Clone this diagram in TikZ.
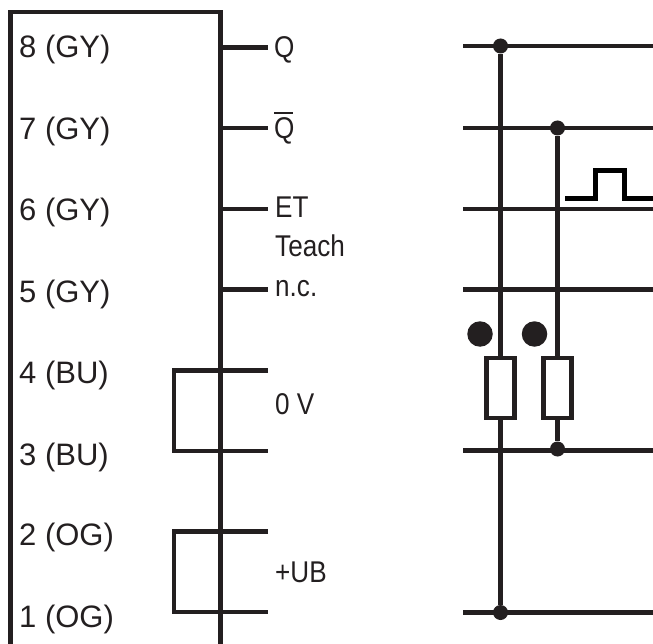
\documentclass[tikz,border=0pt]{standalone}
\usepackage{fontspec}
\setmainfont{Liberation Sans}
\newfontfamily\narrowfont[FakeStretch=0.87]{Liberation Sans}
\definecolor{inkblack}{HTML}{231F20}
\newcommand{\qbarlabel}{\leavevmode\rlap{\raisebox{24.5pt}{\rule{18.5pt}{2pt}}}Q}

\begin{document}
\begin{tikzpicture}[
            x=1pt,
            y=-1pt,
            wire/.style={
                draw=inkblack,
                line width=4.6pt
            },
            pulse/.style={
                draw=black,
                line width=5pt
            },
            pinlabel/.style={
                anchor=base west,
                inner sep=0pt,
                text=inkblack,
                font=\fontsize{31}{36}\selectfont
            },
            signal/.style={
                anchor=base west,
                inner sep=0pt,
                text=inkblack,
                font=\narrowfont\fontsize{30}{36}\selectfont
            },
            junction/.style={
                circle,
                fill=inkblack,
                inner sep=0pt,
                minimum size=15pt
            },
            led/.style={
                circle,
                fill=inkblack,
                inner sep=0pt,
                minimum size=25.5pt
            },
            resistor/.style={
                rectangle,
                draw=inkblack,
                line width=4.6pt,
                fill=white,
                inner sep=0pt,
                minimum width=27.5pt,
                minimum height=60pt
            }
        ]
            \useasboundingbox (0,0) rectangle (653,644);

            % Define pin labels
            \node[pinlabel] (pin8) at (19,58) {8 (GY)};
            \node[pinlabel] (pin7) at (19,140) {7 (GY)};
            \node[pinlabel] (pin6) at (19,221) {6 (GY)};
            \node[pinlabel] (pin5) at (19,302) {5 (GY)};
            \node[pinlabel] (pin4) at (19,383) {4 (BU)};
            \node[pinlabel] (pin3) at (19,465) {3 (BU)};
            \node[pinlabel] (pin2) at (19,545) {2 (OG)};
            \node[pinlabel] (pin1) at (19,627) {1 (OG)};

            % Define signal labels
            \node[signal] (sigq) at (274,58) {Q};
            \node[signal] (sigqbar) at (274,138.5) {\qbarlabel};
            \node[signal] (siget) at (275,218) {ET};
            \node[signal] (sigteach) at (275,257) {Teach};
            \node[signal] (signc) at (275,297) {n.c.};
            \node[signal] (sigzero) at (275,414) {0 V};
            \node[signal] (sigub) at (275,582) {+UB};

            % Define housing corners
            \coordinate (boxbl) at (10.5,644);
            \coordinate (boxtl) at (10.5,12);
            \coordinate (boxtr) at (220.5,12);
            \coordinate (boxbr) at (220.5,644);

            % Define stub ends
            \coordinate (stub8) at (220.5,47.5);
            \coordinate (stub7) at (220.5,128);
            \coordinate (stub6) at (220.5,209);
            \coordinate (stub5) at (220.5,289.5);
            \coordinate (end8) at (268,47.5);
            \coordinate (end7) at (268,128);
            \coordinate (end6) at (268,209);
            \coordinate (end5) at (268,289.5);
            \coordinate (end4) at (268,370.5);
            \coordinate (end3) at (268,451);
            \coordinate (end2) at (268,531.5);
            \coordinate (end1) at (268,612);
            \coordinate (loopa) at (174,370.5);
            \coordinate (loopb) at (174,451);
            \coordinate (loopc) at (174,531.5);
            \coordinate (loopd) at (174,612);

            % Define bus line ends
            \coordinate (busa) at (463,46);
            \coordinate (busb) at (463,128);
            \coordinate (busc) at (463,209);
            \coordinate (busd) at (463,289.5);
            \coordinate (buse) at (463,450.5);
            \coordinate (busf) at (463,612.5);
            \coordinate (outa) at (653,46);
            \coordinate (outb) at (653,128);
            \coordinate (outc) at (653,209);
            \coordinate (outd) at (653,289.5);
            \coordinate (oute) at (653,450.5);
            \coordinate (outf) at (653,612.5);

            % Define junctions and parts
            \node[junction] (topdot) at (500.5,46) {};
            \node[junction] (middot) at (557.5,128) {};
            \node[junction] (lowdot) at (557.5,449) {};
            \node[junction] (botdot) at (500.5,612.5) {};
            \node[led] (leda) at (480,334) {};
            \node[led] (ledb) at (534.5,334) {};
            \node[resistor] (resa) at (500.5,388) {};
            \node[resistor] (resb) at (557.5,388) {};

            % Draw housing
            \draw[wire] (boxbl) -- (boxtl) -- (boxtr) -- (boxbr);

            % Draw stubs
            \draw[wire] (stub8) -- (end8);
            \draw[wire] (stub7) -- (end7);
            \draw[wire] (stub6) -- (end6);
            \draw[wire] (stub5) -- (end5);
            \draw[wire] (end4) -- (loopa) -- (loopb) -- (end3);
            \draw[wire] (end2) -- (loopc) -- (loopd) -- (end1);

            % Draw bus lines
            \draw[wire] (busa) -- (outa);
            \draw[wire] (busb) -- (outb);
            \draw[wire] (busc) -- (outc);
            \draw[wire] (busd) -- (outd);
            \draw[wire] (buse) -- (oute);
            \draw[wire] (busf) -- (outf);

            % Draw verticals
            \draw[wire] (topdot) -- (resa);
            \draw[wire] (resa) -- (botdot);
            \draw[wire] (middot) -- (resb);
            \draw[wire] (resb) -- (lowdot);

            % Draw pulse
            \draw[pulse] (565,199) -- (595,199) -- (595,171) -- (624,171) -- (624,198.5) -- (653,198.5);
        \end{tikzpicture}
\end{document}
